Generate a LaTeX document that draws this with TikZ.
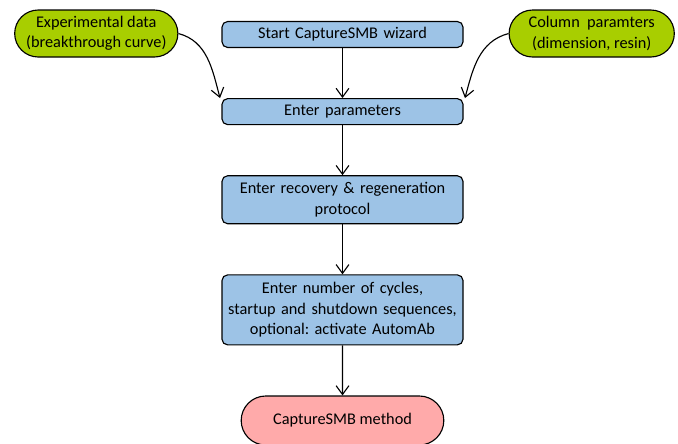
\documentclass[tikz,border=0pt]{standalone}
\usepackage{fontspec}
\setmainfont{Carlito}
\usepackage{tikz}
\usetikzlibrary{chains, positioning, shapes.misc, arrows.meta}
\definecolor{stepblue}{RGB}{157,195,230}
\definecolor{inputgreen}{RGB}{168,206,0}
\definecolor{endpink}{RGB}{255,170,170}
\tikzset{
>={Straight Barb[length=2.2mm,width=3.2mm]},
  stepbox/.style={
    rectangle,
    rounded corners=4pt,
    fill=stepblue,
    draw=black, thick,
    text width=5.9cm,
    minimum width=6.025cm,
    minimum height=0.65cm,
    inner sep=1pt,
    align=center,
    on chain},
  inputbox/.style={
    rounded rectangle,
    fill=inputgreen,
    draw=black, thick,
    minimum width=4.15cm,
    minimum height=1.175cm,
    inner sep=1pt,
    align=center},
  endbox/.style={
    rounded rectangle,
    fill=endpink,
    draw=black, thick,
    minimum width=5.3cm,
    minimum height=1.225cm,
    align=center,
    on chain},
  every join/.style={->, thick},
  feed/.style={->, thick},
}

\begin{document}
\frenchspacing
\begin{tikzpicture}[node distance=1.25cm, start chain=going below,
  font=\fontsize{11.6}{14.4}\selectfont]
     \useasboundingbox (0,0) rectangle (16.95,-11.075);
     \node[stepbox] (Start) at (8.5625,-0.8625) {Start CaptureSMB wizard};
     \node[stepbox, join] (Parameters) {Enter parameters};
     \node[stepbox, join, minimum height=1.2cm] (Protocol) {Enter recovery \& regeneration\\protocol};
     \node[stepbox, join, minimum height=1.75cm] (Cycles) {Enter number of cycles,\\startup and shutdown sequences,\\optional: activate AutomAb};
     \node[endbox, join] (Method) {CaptureSMB method};
     \node[inputbox, left=1.075cm of Start, yshift=0.025cm] (Experimental) {Experimental data\\(breakthrough curve)};
     \node[inputbox, right=1.125cm of Start, yshift=0.025cm, minimum width=4.2cm] (Column) {Column\ \ paramters\\(dimension, resin)};
     \draw[feed] (Experimental.east) to[out=-15, in=105] ([xshift=-1pt]Parameters.north west);
     \draw[feed] (Column.west) to[out=195, in=75] ([xshift=1pt]Parameters.north east);
\end{tikzpicture}
\end{document}
